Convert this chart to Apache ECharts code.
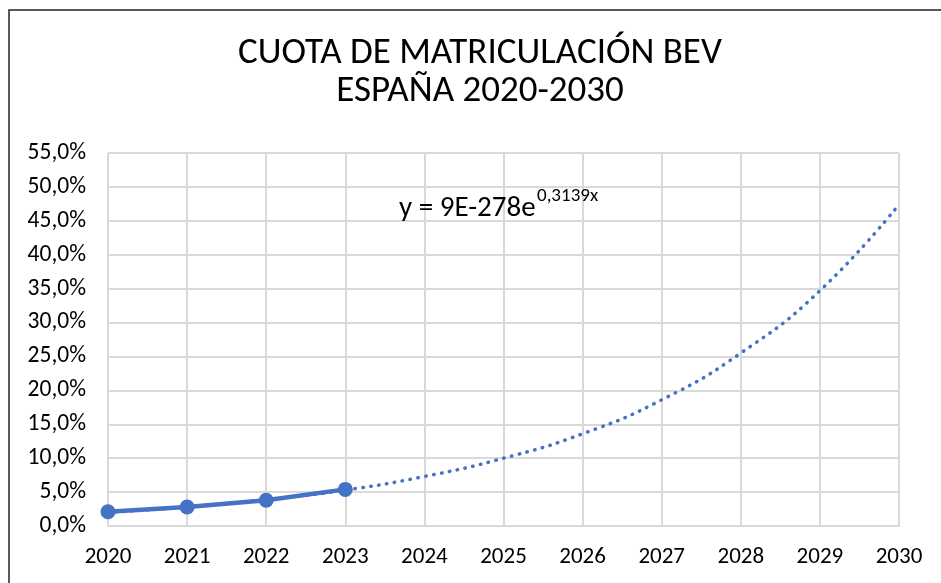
<!DOCTYPE html>
<html>
<head>
<meta charset="utf-8">
<script src="https://cdn.jsdelivr.net/npm/echarts@6/dist/echarts.min.js"></script>
<style>
  html, body { margin: 0; padding: 0; background: #fff; }
  #chart { width: 941px; height: 583px; }
</style>
</head>
<body>
<div id="chart"></div>
<script>
// Years on the x axis
var years = [2020, 2021, 2022, 2023];
var trendYears = [2020, 2021, 2022, 2023, 2024, 2025, 2026, 2027, 2028, 2029, 2030];

// BEV registration share (%)
var shareValues = [2.1, 2.8, 3.8, 5.4];
// exponential trendline values (%)
var trendValues = [2.0, 2.8, 3.9, 5.3, 7.3, 10.0, 13.6, 18.6, 25.5, 34.7, 47.4];

var titleLines = ['CUOTA DE MATRICULACIÓN BEV', 'ESPAÑA 2020-2030'];
var equationMain = 'y = 9E-278e';
var equationExp = '0,3139x';
var FONT = 'Carlito, Lato, sans-serif';
var BLUE = '#4472C4';

var chart = echarts.init(document.getElementById('chart'));

var options = {
  backgroundColor: '#fff',
  animation: false,
  grid: {left: 108, right: 42, top: 153, bottom: 57},
  xAxis: {
    type: 'value',
    min: 2020,
    max: 2030,
    interval: 1,
    axisLine: {show: true, lineStyle: {color: '#d9d9d9', width: 2}},
    axisTick: {show: false},
    axisLabel: {
      color: '#000', fontFamily: FONT, fontSize: 23, margin: 20,
      formatter: function (v) { return String(v); }
    },
    splitLine: {show: true, lineStyle: {color: '#d9d9d9', width: 2}}
  },
  yAxis: {
    type: 'value',
    min: 0,
    max: 55,
    interval: 5,
    axisLine: {show: false},
    axisTick: {show: false},
    axisLabel: {
      color: '#000', fontFamily: FONT, fontSize: 23.5, margin: 22,
      formatter: function (v) { return v.toFixed(1).replace('.', ',') + '%'; }
    },
    splitLine: {show: true, lineStyle: {color: '#d9d9d9', width: 2}}
  },
  series: [
    {
      name: 'Tendencia',
      type: 'line',
      smooth: true,
      symbol: 'none',
      z: 3,
      data: trendYears.map(function (y, i) { return [y, trendValues[i]]; }),
      lineStyle: {color: BLUE, width: 3.5, type: [0.5, 7.5], cap: 'round'}
    },
    {
      name: 'Cuota BEV',
      type: 'line',
      symbol: 'circle',
      symbolSize: 15,
      z: 4,
      data: years.map(function (y, i) { return [y, shareValues[i]]; }),
      itemStyle: {color: BLUE},
      lineStyle: {color: BLUE, width: 4.5}
    }
  ],
  graphic: [
    {
      type: 'rect',
      z: 100,
      shape: {x: 9, y: 10, width: 960, height: 620},
      style: {fill: null, stroke: '#222', lineWidth: 1.5},
      silent: true
    },
    {
      type: 'text', x: 480, y: 54, z: 100,
      style: {text: titleLines[0], fill: '#000', font: '37px ' + FONT,
        textAlign: 'center', textVerticalAlign: 'middle'}
    },
    {
      type: 'text', x: 480, y: 92, z: 100,
      style: {text: titleLines[1], fill: '#000', font: '37px ' + FONT,
        textAlign: 'center', textVerticalAlign: 'middle'}
    },
    {
      type: 'text', x: 399, y: 209, z: 100,
      style: {text: equationMain, fill: '#000', font: '29px ' + FONT,
        textAlign: 'left', textVerticalAlign: 'middle'}
    },
    {
      type: 'text', x: 537, y: 196, z: 100,
      style: {text: equationExp, fill: '#000', font: '19px ' + FONT,
        textAlign: 'left', textVerticalAlign: 'middle'}
    }
  ]
};

chart.setOption(options);
</script>
</body>
</html>
